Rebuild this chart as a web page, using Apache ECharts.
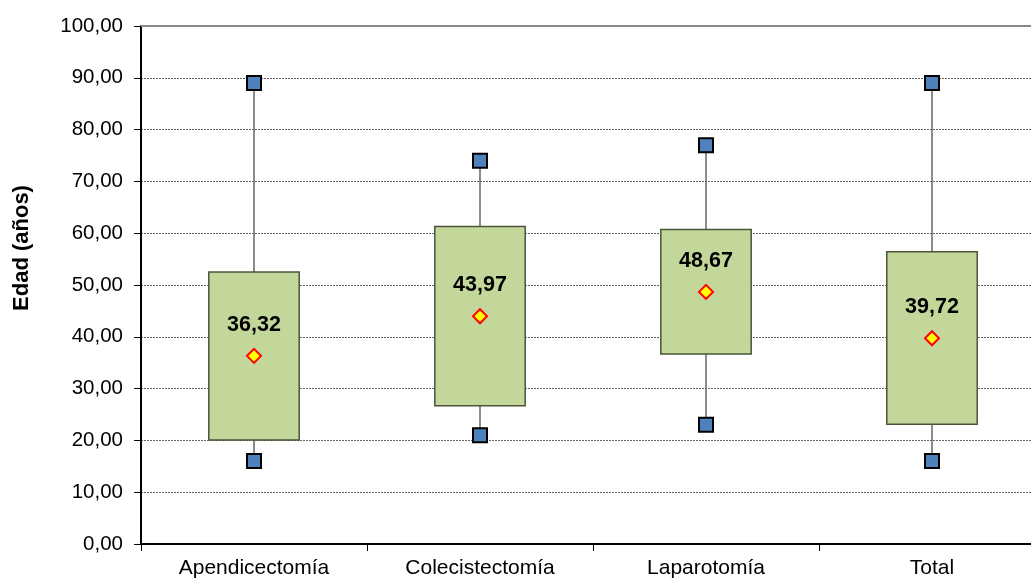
<!DOCTYPE html>
<html>
<head>
<meta charset="utf-8">
<script src="https://cdn.jsdelivr.net/npm/echarts@6/dist/echarts.min.js"></script>
<style>
html,body{margin:0;padding:0;background:#fff;overflow:hidden;}
#chart{width:1031px;height:579px;}
</style>
</head>
<body>
<div id="chart"></div>
<script>
// Age distribution per surgical procedure
const categories = ['Apendicectomía', 'Colecistectomía', 'Laparotomía', 'Total'];
const minValues  = [16, 21, 23, 16];
const q1Values   = [20.1, 26.7, 36.7, 23.1];
const q3Values   = [52.5, 61.3, 60.7, 56.4];
const maxValues  = [89, 74, 77, 89];
const meanValues = [36.32, 43.97, 48.67, 39.72];
const yMin = 0, yMax = 100, yStep = 10;

const fmt = v => v.toFixed(2).replace('.', ',');
const FONT = '"Liberation Sans", Arial, sans-serif';

const boxData = categories.map((c, i) => [i, minValues[i], q1Values[i], q3Values[i], maxValues[i]]);

const chart = echarts.init(document.getElementById('chart'));
chart.setOption({
  animation: false,
  // plot area runs slightly past the right edge of the canvas
  grid: { left: 141, top: 26, height: 518, width: 904, containLabel: false, outerBoundsMode: 'none' },
  xAxis: [{
    type: 'category',
    data: categories,
    boundaryGap: true,
    axisLine: { lineStyle: { color: '#000', width: 2 } },
    axisTick: { show: true, length: 7, alignWithLabel: false, lineStyle: { color: '#000', width: 1 } },
    axisLabel: { color: '#000', fontFamily: FONT, fontSize: 21, margin: 14 },
    splitLine: { show: false }
  }, {
    type: 'category',
    data: categories,
    position: 'top',
    axisLine: { lineStyle: { color: '#888', width: 2 } },
    axisTick: { show: false },
    axisLabel: { show: false }
  }],
  yAxis: {
    type: 'value',
    min: yMin, max: yMax, interval: yStep,
    axisLine: { show: true, lineStyle: { color: '#000', width: 2 } },
    axisTick: { show: true, length: 7, lineStyle: { color: '#000' } },
    axisLabel: { color: '#000', fontFamily: FONT, fontSize: 20.5, margin: 18, formatter: v => fmt(v) },
    splitLine: { show: true, lineStyle: { color: '#666', width: 1, type: [2, 1] } }
  },
  graphic: [{
    type: 'text',
    x: 22, y: 248,
    rotation: Math.PI / 2,
    style: {
      text: 'Edad (años)', fill: '#000',
      font: 'bold 22px ' + FONT,
      textAlign: 'center', textVerticalAlign: 'middle'
    }
  }],
  series: [{
    type: 'custom',
    name: 'rango',
    data: boxData,
    z: 2,
    renderItem: function (params, api) {
      const i = api.value(0);
      const pMin = api.coord([i, api.value(1)]);
      const pQ1 = api.coord([i, api.value(2)]);
      const pQ3 = api.coord([i, api.value(3)]);
      const pMax = api.coord([i, api.value(4)]);
      const w = api.size([1, 0])[0] * 0.4;
      return {
        type: 'group',
        children: [{
          type: 'line',
          shape: { x1: pMax[0], y1: pMax[1], x2: pMin[0], y2: pMin[1] },
          style: { stroke: '#666', lineWidth: 1.5 }
        }, {
          type: 'rect',
          shape: { x: pQ3[0] - w / 2, y: pQ3[1], width: w, height: pQ1[1] - pQ3[1] },
          style: { fill: '#C4D79B', stroke: '#4A5538', lineWidth: 1.5 }
        }]
      };
    }
  }, {
    type: 'scatter',
    name: 'Máximo',
    data: maxValues,
    symbol: 'rect', symbolSize: 14,
    itemStyle: { color: '#4F81BD', borderColor: '#000', borderWidth: 2, opacity: 1 },
    z: 3
  }, {
    type: 'scatter',
    name: 'Mínimo',
    data: minValues,
    symbol: 'rect', symbolSize: 14,
    itemStyle: { color: '#4F81BD', borderColor: '#000', borderWidth: 2, opacity: 1 },
    z: 3
  }, {
    type: 'scatter',
    name: 'Media',
    data: meanValues,
    symbol: 'diamond', symbolSize: [14, 14],
    itemStyle: { color: '#FFFF00', borderColor: '#FF0000', borderWidth: 2, opacity: 1 },
    label: {
      show: true, position: 'inside', offset: [0, -31],
      color: '#000', fontFamily: FONT, fontWeight: 'bold', fontSize: 21.5,
      formatter: p => fmt(p.value)
    },
    z: 4
  }]
});
</script>
</body>
</html>
